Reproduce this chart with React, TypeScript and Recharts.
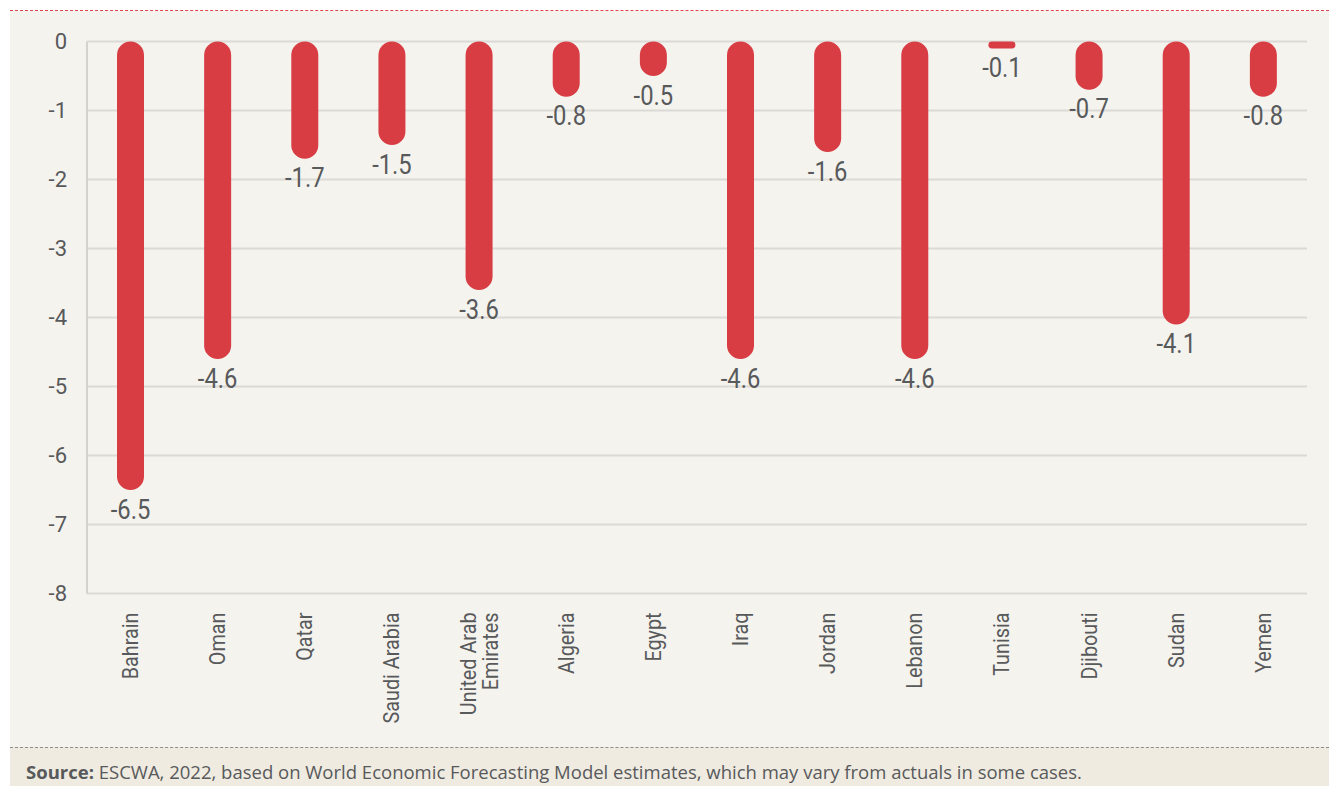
import React from "react"
import { BarChart, Bar, XAxis, YAxis, CartesianGrid, LabelList } from "recharts"

const countries = [
  "Bahrain",
  "Oman",
  "Qatar",
  "Saudi Arabia",
  "United Arab Emirates",
  "Algeria",
  "Egypt",
  "Iraq",
  "Jordan",
  "Lebanon",
  "Tunisia",
  "Djibouti",
  "Sudan",
  "Yemen",
]

const growthChange = [-6.5, -4.6, -1.7, -1.5, -3.6, -0.8, -0.5, -4.6, -1.6, -4.6, -0.1, -0.7, -4.1, -0.8]

const yTicks = [0, -1, -2, -3, -4, -5, -6, -7, -8]

// long names broken over two lines, like the original
const labelLines: Record<string, string[]> = {
  "United Arab Emirates": ["United Arab", "Emirates"],
}

const FONT = "Roboto, sans-serif"
const TEXT = "#58595b"
const RED = "#d93d44"

const data = countries.map((country, i) => ({ country, value: growthChange[i] }))

// category names, rotated, squeezed a bit to look like a condensed face
const CountryTick = (props: any) => {
  const { x, y, payload } = props
  const lines = labelLines[payload.value] || [payload.value]
  const lineHeight = 22
  const top = y + 19
  return (
    <g transform={`translate(${x}, ${top}) rotate(-90) scale(0.9, 1)`}>
      {lines.map((line, i) => {
        const offset = (i - (lines.length - 1) / 2) * lineHeight
        return (
          <text
            key={line}
            x={0}
            y={offset}
            textAnchor="end"
            dominantBaseline="central"
            fill={TEXT}
            fontSize={22}
            fontFamily={FONT}
          >
            {line}
          </text>
        )
      })}
    </g>
  )
}

const ValueLabel = (props: any) => {
  const { x, y, width, height, value } = props
  const bottom = Math.max(y, y + height)
  return (
    <text
      transform={`translate(${x + width / 2}, ${bottom + 19}) scale(0.85, 1)`}
      x={0}
      y={0}
      textAnchor="middle"
      dominantBaseline="central"
      fill={TEXT}
      fontSize={28}
      fontFamily={FONT}
    >
      {value.toFixed(1)}
    </text>
  )
}

export default function App() {
  return (
    <div
      style={{
        position: "absolute",
        left: 0,
        top: 0,
        width: 1329,
        height: 786,
        overflow: "hidden",
        background: "#ffffff",
      }}
    >
      <div
        style={{
          position: "absolute",
          left: 10,
          top: 10,
          right: 0,
          borderTop: "1px dashed #e2434b",
        }}
      />
      <div
        style={{
          position: "absolute",
          left: 10,
          top: 11,
          right: 0,
          height: 736,
          background: "#f4f3ee",
        }}
      />
      <div
        style={{
          position: "absolute",
          left: 10,
          top: 747,
          right: 0,
          bottom: 0,
          background: "#efebe1",
          borderTop: "1px dashed #8c8c8c",
        }}
      >
        <div
          style={{
            position: "absolute",
            left: 16,
            top: 11,
            fontFamily: "'Open Sans', sans-serif",
            fontSize: 18.5,
            color: TEXT,
            whiteSpace: "nowrap",
          }}
        >
          <b>Source:</b> ESCWA, 2022, based on World Economic Forecasting Model estimates, which may vary from actuals in some cases.
        </div>
      </div>
      <div style={{ position: "absolute", left: 0, top: 0 }}>
        <BarChart
          width={1329}
          height={745}
          data={data}
          margin={{ top: 41.5, right: 22, left: 0, bottom: 0 }}
          barCategoryGap={0}
        >
          <CartesianGrid vertical={false} stroke="#dcdad5" strokeWidth={2} />
          <XAxis
            dataKey="country"
            interval={0}
            axisLine={false}
            tickLine={false}
            tickSize={0}
            tickMargin={0}
            height={151.5}
            tick={<CountryTick />}
          />
          <YAxis
            type="number"
            domain={[-8, 0]}
            ticks={yTicks}
            width={87}
            axisLine={{ stroke: "#d5d3ce", strokeWidth: 2 }}
            tickLine={false}
            tickSize={0}
            tickMargin={20}
            tick={{ fill: TEXT, fontSize: 22, fontFamily: FONT }}
          />
          <Bar
            dataKey="value"
            fill={RED}
            barSize={27}
            radius={[13.5, 13.5, 13.5, 13.5]}
            isAnimationActive={false}
          >
            <LabelList dataKey="value" content={<ValueLabel />} />
          </Bar>
        </BarChart>
      </div>
    </div>
  )
}
